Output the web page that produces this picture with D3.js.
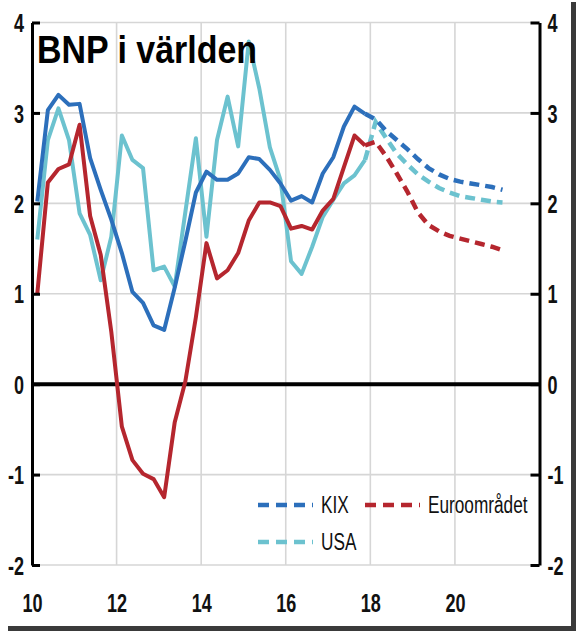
<!DOCTYPE html>
<html>
<head>
<meta charset="utf-8">
<script src="https://cdn.jsdelivr.net/npm/d3@7"></script>
<style>
  html, body { margin: 0; padding: 0; background: #fff; }
  svg { display: block; }
</style>
</head>
<body>
<svg id="chart" width="576" height="638"></svg>
<script>
// ---------- DATA (quarterly, annual % change) ----------
const title = "BNP i världen";
const startYear = 2010;            // first quarter = 2010 Q1
const forecastStartIndex = 31;     // 2017 Q4 (last outcome, forecasts start here)

const kixActual = [2.02, 3.03, 3.20, 3.09, 3.10, 2.50, 2.15, 1.82, 1.45, 1.02,
                   0.90, 0.65, 0.60, 1.07, 1.58, 2.12, 2.35, 2.26, 2.26, 2.33,
                   2.51, 2.49, 2.37, 2.22, 2.03, 2.08, 2.01, 2.33, 2.51, 2.85,
                   3.07, 2.99];
const kixForecast = [2.99, 2.93, 2.80, 2.70, 2.60, 2.49, 2.39, 2.32, 2.27, 2.24,
                     2.22, 2.20, 2.18, 2.15];

const usaActual = [1.60, 2.70, 3.05, 2.70, 1.89, 1.65, 1.15, 1.63, 2.75, 2.48,
                   2.39, 1.26, 1.30, 1.08, 1.90, 2.72, 1.63, 2.70, 3.18, 2.63,
                   3.79, 3.27, 2.62, 2.26, 1.36, 1.22, 1.52, 1.85, 2.04, 2.22,
                   2.31, 2.48];
const usaForecast = [2.48, 2.90, 2.72, 2.55, 2.43, 2.32, 2.24, 2.17, 2.12, 2.08,
                     2.06, 2.04, 2.02, 2.01];

const euroActual = [1.00, 2.23, 2.38, 2.43, 2.87, 1.86, 1.43, 0.58, -0.47, -0.84,
                    -0.99, -1.05, -1.25, -0.42, 0.03, 0.74, 1.56, 1.17, 1.26, 1.45,
                    1.81, 2.01, 2.01, 1.97, 1.72, 1.75, 1.71, 1.92, 2.05, 2.40,
                    2.75, 2.64];
const euroForecast = [2.64, 2.68, 2.52, 2.33, 2.13, 1.90, 1.76, 1.69, 1.64, 1.61,
                      1.58, 1.55, 1.52, 1.48];

const seriesNames = ["KIX", "USA", "Euroområdet"];
const seriesColors = ["#2c6fbb", "#6cc2cf", "#b5262e"];

const xTickValues = [10, 12, 14, 16, 18, 20];
const xTickLabels = ["10", "12", "14", "16", "18", "20"];
const yTickValues = [-2, -1, 0, 1, 2, 3, 4];
const yTickLabels = ["-2", "-1", "0", "1", "2", "3", "4"];
// ---------------------------------------------------------

const svg = d3.select("#chart");
const FONT = "'Liberation Sans', Arial, sans-serif";
const SX = 0.82, SY = 1.15; // condensed / stretched look of the reference text

svg.append("rect").attr("width", 576).attr("height", 638).attr("fill", "#fff");

const plotL = 32, plotR = 539.5, plotT = 22.5, plotB = 565;
const x = d3.scaleLinear().domain([10, 22]).range([plotL, plotR]);
const y = d3.scaleLinear().domain([-2, 4]).range([plotB, plotT]);

// quarter index -> two-digit year position (centre of quarter)
const qx = i => (startYear - 2000) + (i + 0.5) / 4;

// grid
const grid = svg.append("g");
grid.selectAll("line.h").data(yTickValues.filter(v => v !== 0)).join("line")
  .attr("class", "h")
  .attr("x1", plotL).attr("x2", plotR)
  .attr("y1", d => y(d)).attr("y2", d => y(d))
  .attr("stroke", "#d6d6d6").attr("stroke-width", 1.6);
grid.selectAll("line.v").data(xTickValues.filter(v => v !== 10)).join("line")
  .attr("class", "v")
  .attr("y1", plotT).attr("y2", plotB)
  .attr("x1", d => x(d)).attr("x2", d => x(d))
  .attr("stroke", "#d6d6d6").attr("stroke-width", 1.6);

// zero line
svg.append("line")
  .attr("x1", plotL).attr("x2", plotR)
  .attr("y1", y(0)).attr("y2", y(0))
  .attr("stroke", "#000").attr("stroke-width", 4);

// series lines
const line = d3.line().x(d => x(d[0])).y(d => y(d[1]));
function draw(actual, forecast, color) {
  const a = actual.map((v, i) => [qx(i), v]);
  const f = forecast.map((v, i) => [qx(forecastStartIndex + i), v]);
  svg.append("path").attr("d", line(a)).attr("fill", "none")
    .attr("stroke", color).attr("stroke-width", 4).attr("stroke-linejoin", "round");
  svg.append("path").attr("d", line(f)).attr("fill", "none")
    .attr("stroke", color).attr("stroke-width", 4.5).attr("stroke-dasharray", "10,6");
}
draw(usaActual, usaForecast, seriesColors[1]);
draw(euroActual, euroForecast, seriesColors[2]);
draw(kixActual, kixForecast, seriesColors[0]);

// axes
function styleAxis(g, anchor, pad) {
  g.select(".domain").attr("stroke", "#000").attr("stroke-width", 3);
  g.selectAll(".tick line").attr("stroke", "#000").attr("stroke-width", 3);
  g.selectAll(".tick text")
    .attr("font-family", FONT).attr("font-weight", "bold")
    .attr("font-size", 22).attr("fill", "#111")
    .attr("text-anchor", anchor)
    .attr("x", pad / SX)
    .attr("dy", "0.36em")
    .attr("transform", `scale(${SX},${SY})`);
}
const yAxisL = d3.axisLeft(y).tickValues(yTickValues)
  .tickFormat((d, i) => yTickLabels[i]).tickSizeInner(-8).tickSizeOuter(0).tickPadding(8);
svg.append("g").attr("transform", `translate(${plotL},0)`).call(yAxisL)
  .call(g => styleAxis(g, "end", -8));

const yAxisR = d3.axisRight(y).tickValues(yTickValues)
  .tickFormat((d, i) => yTickLabels[i]).tickSizeInner(-9).tickSizeOuter(0).tickPadding(8);
svg.append("g").attr("transform", `translate(${plotR},0)`).call(yAxisR)
  .call(g => styleAxis(g, "start", 8));

const xAxis = d3.axisBottom(x).tickValues(xTickValues)
  .tickFormat((d, i) => xTickLabels[i]).tickSize(0).tickPadding(0);
svg.append("g").attr("transform", `translate(0,${plotB})`).call(xAxis)
  .call(g => {
    g.select(".domain").remove();
    g.selectAll(".tick text")
      .attr("font-family", FONT).attr("font-weight", "bold")
      .attr("font-size", 22).attr("fill", "#111")
      .attr("y", 38 / SY).attr("dy", "0.36em")
      .attr("transform", `scale(${SX},${SY})`);
  });

// title
svg.append("text")
  .attr("transform", `translate(37,63) scale(1,${SY})`)
  .attr("font-family", FONT)
  .attr("font-weight", "bold").attr("font-size", 34)
  .attr("textLength", 220).attr("lengthAdjust", "spacingAndGlyphs")
  .attr("fill", "#000").text(title);

// legend
const legendItems = [
  { name: seriesNames[0], color: seriesColors[0], x: 258, y: 505 },
  { name: seriesNames[2], color: seriesColors[2], x: 365, y: 505 },
  { name: seriesNames[1], color: seriesColors[1], x: 258, y: 542 }
];
const lg = svg.append("g");
legendItems.forEach(it => {
  lg.append("line")
    .attr("x1", it.x).attr("x2", it.x + 55)
    .attr("y1", it.y).attr("y2", it.y)
    .attr("stroke", it.color).attr("stroke-width", 4.5)
    .attr("stroke-dasharray", "11,7");
  lg.append("text")
    .attr("transform", `translate(${it.x + 63},${it.y + 8}) scale(${SX},${SY})`)
    .attr("font-family", FONT).attr("font-size", 21)
    .attr("fill", "#111").text(it.name);
});

// frame (dark edges of the original picture)
svg.append("rect").attr("x", 571).attr("y", 2).attr("width", 5).attr("height", 629).attr("fill", "#3a3a3a");
svg.append("rect").attr("x", 8).attr("y", 626).attr("width", 568).attr("height", 5).attr("fill", "#3a3a3a");
</script>
</body>
</html>
